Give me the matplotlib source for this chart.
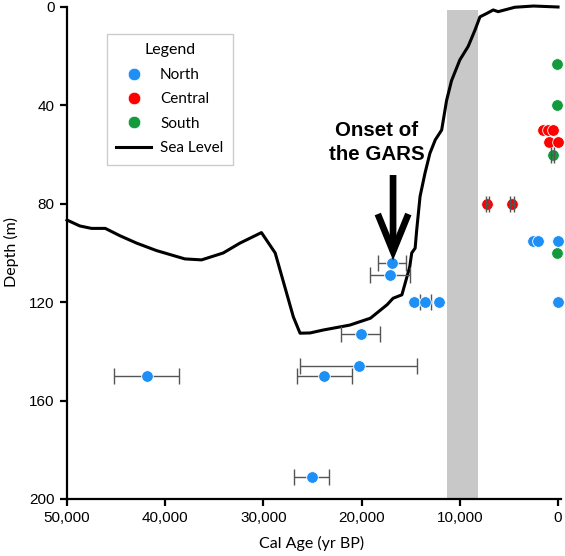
import matplotlib
matplotlib.use('Agg')
import matplotlib.pyplot as plt
from matplotlib.lines import Line2D
from matplotlib.patches import FancyArrowPatch
from matplotlib.ticker import FuncFormatter

# Sea level curve (age yr BP, depth m)
sea_age = [50000, 48700, 47500, 46100, 44600, 42900, 40900, 38000, 36300, 34100,
           32400, 30200, 28800, 26950, 26270, 25250, 23900, 21200, 19100, 17400,
           16800, 15900, 15100, 14900, 14550, 14400, 14050, 13550, 13050, 12500,
           11850, 11350, 10850, 10000, 9150, 8450, 7950, 7250, 6600, 6100,
           4400, 2500, 0]
sea_depth = [86.6, 89, 90, 90, 93, 96, 99, 102.4, 102.8, 100,
             96, 91.7, 100, 126, 132.6, 132.5, 131.3, 129.3, 126.5, 121,
             118.4, 117, 105.6, 100, 98, 91, 77, 67.6, 59.5, 54,
             50, 38, 30, 21.5, 16, 9.3, 4, 2.6, 1.2, 1.9,
             0.1, -0.4, 0]

north_age = [16900, 17100, 14700, 13500, 12150, 20100, 20300, 41900, 23800, 25100, 2550, 2050, 0, 0]
north_depth = [104, 109, 120, 120, 120, 133, 146, 150, 150, 191, 95, 95, 95, 120]
north_err = [1400, 2050, 0, 550, 0, 1950, 5950, 3350, 2800, 1750, 0, 0, 0, 0]

central_age = [1500, 1000, 500, 900, 50, 7200, 4700]
central_depth = [50, 50, 50, 55, 55, 80, 80]
central_err = [0, 0, 0, 0, 0, 180, 180]

south_age = [100, 100, 550, 100]
south_depth = [23, 40, 60, 100]
south_err = [0, 0, 150, 0]

band = (8150, 11300)
xticks = [50000, 40000, 30000, 20000, 10000, 0]
yticks = [0, 40, 80, 120, 160, 200]

C_N = '#1e8ff5'
C_C = '#ff0000'
C_S = '#129a3c'
EC = '#555555'

fig = plt.figure(figsize=(5.65, 5.56), dpi=100)
W, H = 565, 556
ax = fig.add_axes([67 / W, 1 - 499 / H, (560.5 - 67) / W, (499 - 7) / H])
ax.set_xlim(50000, -250)
ax.set_ylim(200, 0)

ax.axvspan(band[0], band[1], ymin=0, ymax=0.994, color='#c8c8c8', lw=0, zorder=1)

ax.plot(sea_age, sea_depth, color='black', lw=2.2, zorder=3, clip_on=False,
        solid_joinstyle='round')

def series(ages, depths, errs, color, err_on_top):
    ea = [a for a, e in zip(ages, errs) if e > 0]
    ed = [d for d, e in zip(depths, errs) if e > 0]
    ee = [e for e in errs if e > 0]
    if ea:
        ax.errorbar(ea, ed, xerr=ee, fmt='none', ecolor=EC, elinewidth=1.0,
                    capsize=6, capthick=1.0, zorder=6 if err_on_top else 4)
    ax.plot(ages, depths, 'o', ms=8.4, mfc=color, mec='white', mew=0.6,
            zorder=5, clip_on=False)

series(north_age, north_depth, north_err, C_N, False)
series(central_age, central_depth, central_err, C_C, True)
series(south_age, south_depth, south_err, C_S, True)

# Annotation arrow and text
arr = FancyArrowPatch((16800, 68.3), (16800, 103.0),
                      arrowstyle='->,head_length=1.35,head_width=0.55',
                      mutation_scale=20, lw=4.8, color='black',
                      shrinkA=0, shrinkB=0, zorder=7, capstyle='butt',
                      joinstyle='miter')
ax.add_patch(arr)
ax.text(18450, 55.0, 'Onset of\nthe GARS', ha='center', va='center',
        fontsize=14.8, fontweight='bold', family='Liberation Sans',
        linespacing=1.3, zorder=7)

# Axes styling
for s in ['top', 'right']:
    ax.spines[s].set_visible(False)
for s in ['left', 'bottom']:
    ax.spines[s].set_linewidth(1.6)
ax.set_xticks(xticks)
ax.set_yticks(yticks)
ax.xaxis.set_major_formatter(FuncFormatter(lambda v, p: f'{int(v):,}'))
ax.tick_params(direction='out', length=5, width=1.6, labelsize=11, pad=4)
for lab in ax.get_xticklabels() + ax.get_yticklabels():
    lab.set_family('Liberation Sans')

fig.text(312 / W, 1 - 543 / H, 'Cal Age (yr BP)', ha='center', va='center',
         fontsize=11.5, family='Lato')
fig.text(11 / W, 1 - 252 / H, 'Depth (m)', ha='center', va='center',
         rotation=90, fontsize=11.5, family='Lato')

handles = [
    Line2D([], [], ls='none', marker='o', ms=9, mfc=C_N, mec='white', mew=0.5),
    Line2D([], [], ls='none', marker='o', ms=9, mfc=C_C, mec='white', mew=0.5),
    Line2D([], [], ls='none', marker='o', ms=9, mfc=C_S, mec='white', mew=0.5),
    Line2D([], [], color='black', lw=2.2),
]
leg = ax.legend(handles, ['North', 'Central', 'South', 'Sea Level'],
                title='Legend', loc='upper left',
                bbox_to_anchor=(107 / W, 1 - 34 / H), bbox_transform=fig.transFigure,
                frameon=True, fancybox=False, edgecolor='#cccccc', framealpha=1,
                borderpad=0.62, labelspacing=0.68, handlelength=2.25,
                handletextpad=0.6, borderaxespad=0,
                prop={'family': 'Lato', 'size': 11})
leg.get_title().set_family('Lato')
leg.get_title().set_fontsize(11.5)
leg.get_frame().set_linewidth(1.0)
leg.set_zorder(10)

fig.savefig('out.png', dpi=100)
